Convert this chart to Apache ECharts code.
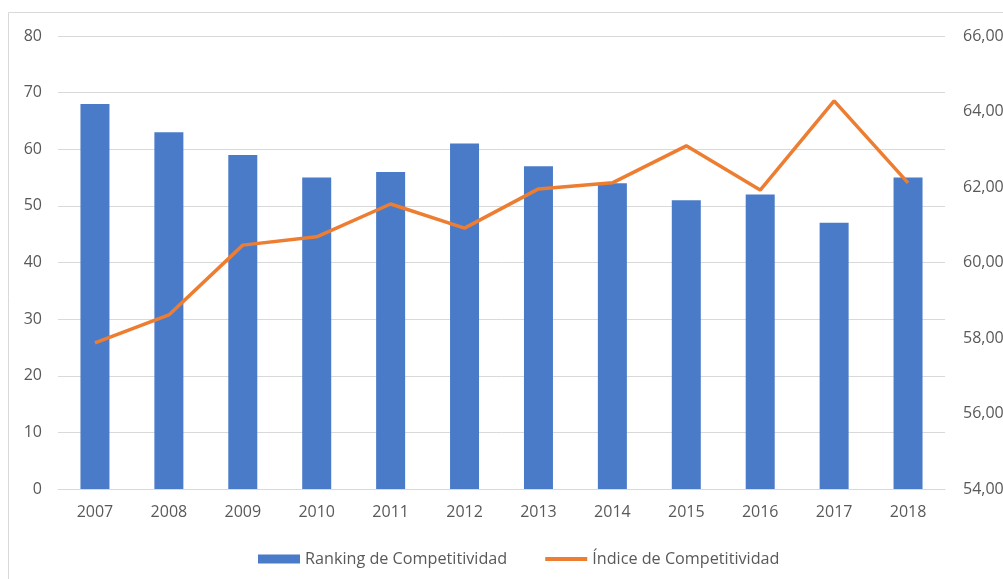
<!DOCTYPE html>
<html>
<head>
<meta charset="utf-8">
<script src="https://cdn.jsdelivr.net/npm/echarts@6/dist/echarts.min.js"></script>
<style>
    html, body { margin: 0; padding: 0; background: #fff; }
    #chartDiv { width: 1003px; height: 579px; }
</style>
</head>
<body>
<div id="chartDiv"></div>
<script>
// datos del gráfico
var years = ['2007', '2008', '2009', '2010', '2011', '2012', '2013', '2014', '2015', '2016', '2017', '2018'];
var ranking = [68, 63, 59, 55, 56, 61, 57, 54, 51, 52, 47, 55];
var indice = [57.87, 58.61, 60.46, 60.68, 61.55, 60.91, 61.95, 62.11, 63.09, 61.92, 64.28, 62.11];
var leftTicks = [0, 80, 10];
var rightTicks = [54, 66, 2];

var labelFont = { fontFamily: 'Open Sans', fontSize: 16, color: '#595959' };

var myChart = echarts.init(document.getElementById('chartDiv'));
var option = {
    animation: false,
    backgroundColor: '#fff',
    graphic: [{
        type: 'rect',
        shape: { x: 8.5, y: 12.5, width: 1100, height: 700 },
        style: { fill: 'none', stroke: '#d9d9d9', lineWidth: 1 },
        silent: true
    }],
    // sin ajuste automático: las etiquetas de la derecha quedan cortadas como en el original
    grid: { left: 58, right: 58, top: 36, bottom: 90, outerBoundsMode: 'none' },
    legend: {
        top: 546,
        left: 253,
        itemGap: 38,
        itemWidth: 42,
        itemHeight: 9,
        textStyle: { fontFamily: 'Open Sans', fontSize: 16.2, color: '#595959' },
        data: [
            { name: 'Ranking de Competitividad', icon: 'rect' },
            { name: 'Índice de Competitividad', icon: 'path://M0,0L42,0L42,4L0,4Z' }
        ]
    },
    xAxis: {
        type: 'category',
        data: years,
        axisTick: { show: false },
        axisLine: { lineStyle: { color: '#d9d9d9' } },
        axisLabel: Object.assign({ margin: 15 }, labelFont)
    },
    yAxis: [
        {
            type: 'value',
            min: leftTicks[0], max: leftTicks[1], interval: leftTicks[2],
            axisLine: { show: false },
            axisTick: { show: false },
            splitLine: { lineStyle: { color: '#d9d9d9' } },
            axisLabel: Object.assign({ margin: 16 }, labelFont)
        },
        {
            type: 'value',
            min: rightTicks[0], max: rightTicks[1], interval: rightTicks[2],
            axisLine: { show: false },
            axisTick: { show: false },
            splitLine: { show: false },
            axisLabel: Object.assign({
                margin: 18,
                formatter: function (v) { return v.toFixed(2).replace('.', ','); }
            }, labelFont)
        }
    ],
    series: [
        {
            name: 'Ranking de Competitividad',
            type: 'bar',
            data: ranking,
            barWidth: 29,
            itemStyle: { color: '#4a7bc8' }
        },
        {
            name: 'Índice de Competitividad',
            type: 'line',
            yAxisIndex: 1,
            data: indice,
            symbol: 'none',
            lineStyle: { color: '#ed7d31', width: 3.5 },
            itemStyle: { color: '#ed7d31' }
        }
    ]
};
myChart.setOption(option);
</script>
</body>
</html>
